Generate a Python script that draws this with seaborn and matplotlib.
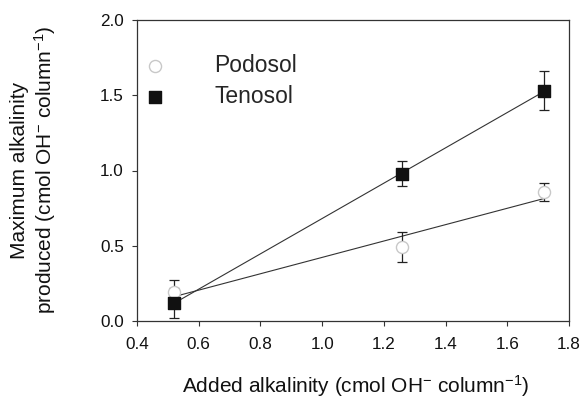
import numpy as np
import pandas as pd
import matplotlib
matplotlib.use("Agg")
import matplotlib.pyplot as plt
import seaborn as sns

# Added alkalinity (x) and maximum alkalinity produced (y) per soil
added = [0.52, 1.26, 1.72]
podosol_y = [0.19, 0.49, 0.86]
podosol_err = [0.08, 0.10, 0.06]
tenosol_y = [0.12, 0.98, 1.53]
tenosol_err = [0.10, 0.085, 0.13]

x_ticks = [0.4, 0.6, 0.8, 1.0, 1.2, 1.4, 1.6, 1.8]
y_ticks = [0.0, 0.5, 1.0, 1.5, 2.0]

df = pd.concat([
    pd.DataFrame({"added": added, "produced": podosol_y, "err": podosol_err, "soil": "Podosol"}),
    pd.DataFrame({"added": added, "produced": tenosol_y, "err": tenosol_err, "soil": "Tenosol"}),
], ignore_index=True)

sns.set_style("ticks")
plt.rcParams["font.family"] = ["Liberation Sans", "DejaVu Sans"]
plt.rcParams["mathtext.fontset"] = "custom"
plt.rcParams["mathtext.rm"] = "Liberation Sans"
plt.rcParams["mathtext.it"] = "Liberation Sans"
plt.rcParams["mathtext.default"] = "regular"

W, H = 583, 399
fig = plt.figure(figsize=(W / 100, H / 100), dpi=100)
ax = fig.add_axes([137 / W, 1 - 321 / H, 432 / W, 301 / H])

styles = {
    "Podosol": dict(marker="o", facecolor="white", edgecolor="#c8c8c8"),
    "Tenosol": dict(marker="s", facecolor="#111111", edgecolor="#111111"),
}

for soil, sub in df.groupby("soil"):
    # fitted linear trend over the measured range
    sns.regplot(data=sub, x="added", y="produced", ax=ax, scatter=False, ci=None,
                truncate=True, line_kws=dict(color="#333333", lw=0.8, zorder=2))
    ax.errorbar(sub["added"], sub["produced"], yerr=sub["err"], fmt="none",
                ecolor="#222222", elinewidth=0.9, capsize=3.3, capthick=0.9, zorder=3)

for soil in ["Podosol", "Tenosol"]:
    sub = df[df["soil"] == soil]
    st = styles[soil]
    sns.scatterplot(data=sub, x="added", y="produced", ax=ax, marker=st["marker"],
                    s=76, color=st["facecolor"], edgecolor=st["edgecolor"],
                    linewidth=1.0, label=soil, zorder=4)

ax.set_xlim(0.4, 1.8)
ax.set_ylim(0.0, 2.0)
ax.set_xticks(x_ticks)
ax.set_yticks(y_ticks)
ax.set_xticklabels([f"{v:.1f}" for v in x_ticks])
ax.set_yticklabels([f"{v:.1f}" for v in y_ticks])
ax.tick_params(axis="both", direction="out", length=3.6, width=0.8, color="#333333",
               labelsize=12.3, labelcolor="#111111")
ax.tick_params(axis="x", pad=8)
ax.tick_params(axis="y", pad=6)
for sp in ax.spines.values():
    sp.set_visible(True)
    sp.set_color("#333333")
    sp.set_linewidth(0.9)

ax.set_xlabel("")
ax.set_ylabel("")
fig.text(356 / W, (H - 393) / H, r"Added alkalinity (cmol OH$^{-}$ column$^{-1}$)",
         fontsize=15, color="#111111", ha="center", va="baseline")
fig.text(34 / W, 1 - 170 / H,
         "Maximum alkalinity\n" + r"produced (cmol OH$^{-}$ column$^{-1}$)",
         fontsize=15, color="#111111", ha="center", va="center", rotation=90,
         linespacing=1.2, multialignment="center")

leg = ax.legend(loc="upper left", bbox_to_anchor=(0.015, 0.888), frameon=False,
                fontsize=16.5, handlelength=1.0, handletextpad=2.1,
                borderpad=0, borderaxespad=0, labelspacing=0.38)

fig.savefig("out.png", dpi=100)
